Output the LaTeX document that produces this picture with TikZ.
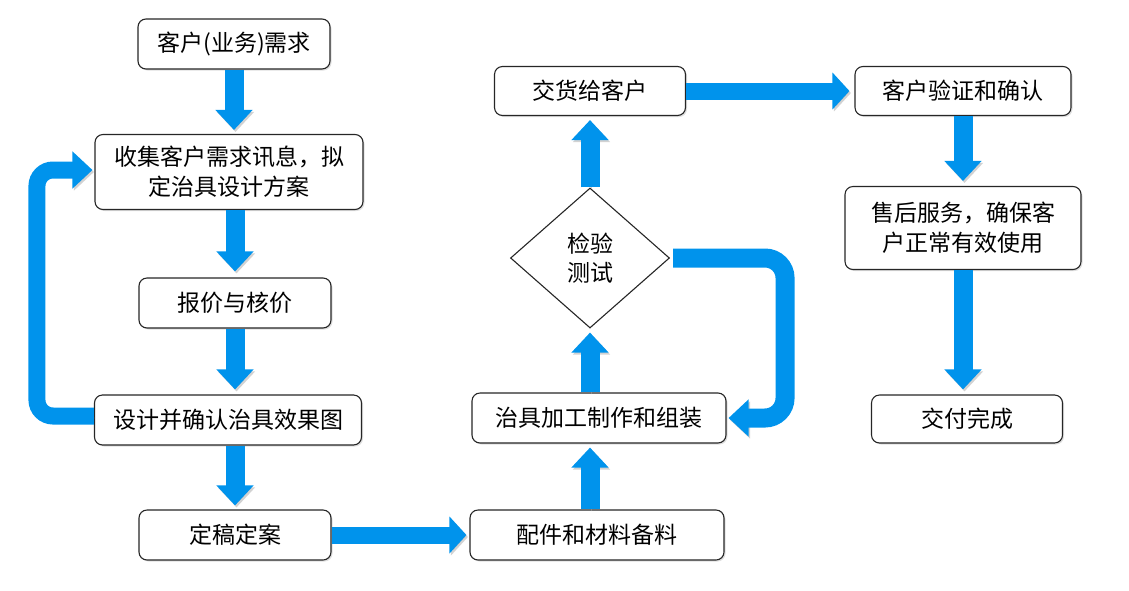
\documentclass[tikz,border=0pt]{standalone}
\usepackage{fontspec}
\setmainfont{Noto Sans CJK SC}
\usetikzlibrary{arrows.meta,shapes.geometric,shadows}
\definecolor{arrowblue}{RGB}{0,147,236}
\tikzset{
  box/.style={draw=black!85, line width=1.1pt, rounded corners=8pt, fill=white,
    inner sep=2pt, align=center, font=\fontsize{23}{30}\selectfont,
    drop shadow={opacity=0.25, shadow xshift=1.5pt, shadow yshift=-1.5pt}},
  dia/.style={draw=black!85, line width=1.1pt, diamond, fill=white, inner sep=0pt,
    align=center, font=\fontsize{23}{29}\selectfont,
    minimum width=159pt, minimum height=140pt},
  barrow/.style={draw=arrowblue, line width=19pt,
    -{Triangle[width=36pt,length=20pt]},
    preaction={draw=black!35, opacity=0.5, transform canvas={shift={(1.5pt,-2pt)}}}},
  harrow/.style={draw=arrowblue, line width=17pt,
    -{Triangle[width=36pt,length=17pt]},
    preaction={draw=black!35, opacity=0.5, transform canvas={shift={(1.5pt,-2pt)}}}},
}
\begin{document}
\begin{tikzpicture}[x=1pt,y=-1pt]
\useasboundingbox (0,0) rectangle (1129,590);
% left column
\node[box, minimum width=192pt, minimum height=50pt] (n1) at (234,44) {客户(业务)需求};
\node[box, minimum width=268pt, minimum height=75pt] (n2) at (229,172) {收集客户需求讯息，拟\\定治具设计方案};
\node[box, minimum width=192pt, minimum height=50pt] (n3) at (235,303) {报价与核价};
\node[box, minimum width=267pt, minimum height=50pt] (n4) at (228,420) {设计并确认治具效果图};
\node[box, minimum width=192pt, minimum height=50pt] (n5) at (235,535) {定稿定案};
% middle column
\node[box, minimum width=254pt, minimum height=50pt] (n6) at (597,535) {配件和材料备料};
\node[box, minimum width=254pt, minimum height=50pt] (n7) at (599,418) {治具加工制作和组装};
\node[dia] (d) at (590,258) {检验\\测试};
\node[box, minimum width=191pt, minimum height=49pt] (n9) at (590,91) {交货给客户};
% right column
\node[box, minimum width=216pt, minimum height=49pt] (n10) at (963,91) {客户验证和确认};
\node[box, minimum width=236pt, minimum height=83pt] (n11) at (963,228) {售后服务，确保客\\户正常有效使用};
\node[box, minimum width=191pt, minimum height=48pt] (n12) at (967,419) {交付完成};
% arrows
\draw[barrow, shorten >=4pt] (n1.south) -- (n1.south |- n2.north);
\draw[barrow, shorten >=6pt] (n3.north |- n2.south) -- (n3.north);
\draw[barrow, shorten >=5pt] (n3.south) -- (n3.south |- n4.north);
\draw[barrow, shorten >=4pt] (n5.north |- n4.south) -- (n5.north);
\draw[barrow, line width=17pt, rounded corners=16pt, shorten >=2pt] ([yshift=4pt]n4.west) -- ++(-57,0) |- ([yshift=2pt]n2.west);
\draw[harrow, shorten >=3pt] (n5.east) -- (n6.west);
\draw[barrow, shorten >=4pt] (d.south |- n6.north) -- (d.south |- n7.south);
\draw[barrow, shorten >=4pt] (d.south |- n7.north) -- (d.south);
\draw[barrow, shorten >=4pt] (d.north) -- (n9.south);
\draw[barrow, rounded corners=20pt, shorten >=2pt] ([xshift=3pt]d.east) -- ++(112,0) |- (n7.east);
\draw[harrow, shorten >=5pt] (n9.east) -- (n10.west);
\draw[barrow, shorten >=5pt] (n10.south) -- (n11.north);
\draw[barrow, shorten >=5pt] (n11.south) -- (n11.south |- n12.north);
\end{tikzpicture}
\end{document}
